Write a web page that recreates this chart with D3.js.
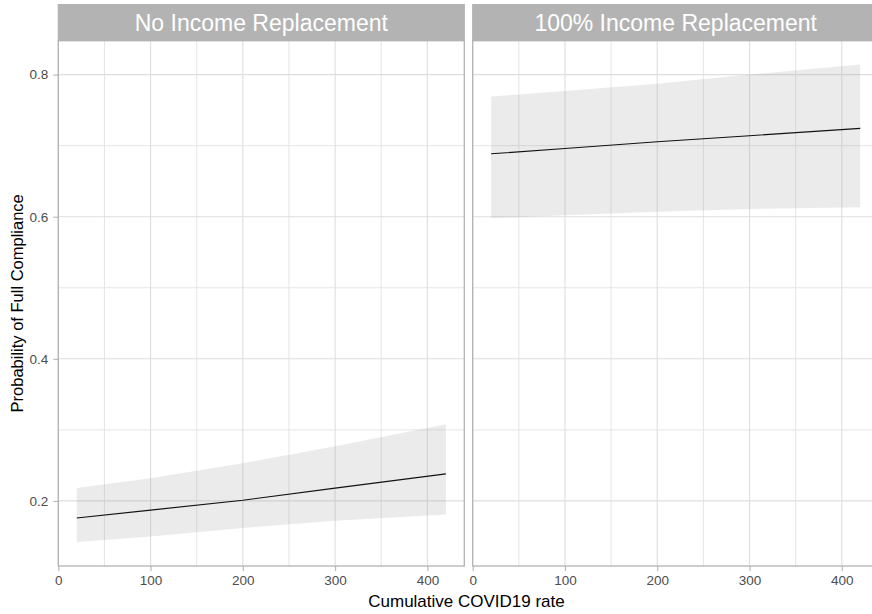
<!DOCTYPE html>
<html>
<head>
<meta charset="utf-8">
<script src="https://cdn.jsdelivr.net/npm/d3@7"></script>
<style>
  html, body { margin: 0; padding: 0; background: #ffffff; }
  svg { display: block; font-family: "Liberation Sans", Arial, sans-serif; }
</style>
</head>
<body>
<svg id="chart" width="872" height="614"></svg>
<script>
// Facet labels and predicted values along the cumulative COVID19 rate
const panels = ["No Income Replacement", "100% Income Replacement"];
const rate = [20, 100, 200, 300, 420];
const fitNone = [0.176, 0.187, 0.201, 0.218, 0.238];
const lowerNone = [0.142, 0.150, 0.162, 0.172, 0.181];
const upperNone = [0.218, 0.232, 0.253, 0.277, 0.308];
const fitFull = [0.6885, 0.696, 0.7055, 0.714, 0.7243];
const lowerFull = [0.598, 0.602, 0.607, 0.611, 0.6133];
const upperFull = [0.769, 0.777, 0.787, 0.800, 0.8141];
const xTicks = [0, 100, 200, 300, 400];
const xMinor = [50, 150, 250, 350];
const yTicks = [0.2, 0.4, 0.6, 0.8];
const yMinor = [0.3, 0.5, 0.7];

const series = [
  { name: panels[0], fit: fitNone, lo: lowerNone, hi: upperNone },
  { name: panels[1], fit: fitFull, lo: lowerFull, hi: upperFull }
];

const svg = d3.select("#chart");
const panelTop = 40.7, panelBottom = 566, stripTop = 4;
const panelLeft = [58.3, 472.7];
const panelWidth = 406;

// shared y scale with 5% padding around the bands
const allLo = d3.min(series, s => d3.min(s.lo));
const allHi = d3.max(series, s => d3.max(s.hi));
const pad = (allHi - allLo) * 0.05;
const y = d3.scaleLinear().domain([allLo - pad, allHi + pad]).range([panelBottom, panelTop]);

const xMin = d3.min(rate), xMax = d3.max(rate);
const xPad = (xMax - xMin) * 0.05;

series.forEach((s, i) => {
  const x0 = panelLeft[i];
  const x = d3.scaleLinear().domain([xMin - xPad, xMax + xPad]).range([x0, x0 + panelWidth]);
  const g = svg.append("g");

  // minor grid
  g.selectAll(".vmin").data(xMinor).join("line")
    .attr("x1", d => x(d)).attr("x2", d => x(d))
    .attr("y1", panelTop).attr("y2", panelBottom)
    .attr("stroke", "#e2e2e2").attr("stroke-width", 0.9);
  g.selectAll(".hmin").data(yMinor).join("line")
    .attr("x1", x0).attr("x2", x0 + panelWidth)
    .attr("y1", d => y(d)).attr("y2", d => y(d))
    .attr("stroke", "#e2e2e2").attr("stroke-width", 0.9);
  // major grid
  g.selectAll(".vmaj").data(xTicks).join("line")
    .attr("x1", d => x(d)).attr("x2", d => x(d))
    .attr("y1", panelTop).attr("y2", panelBottom)
    .attr("stroke", "#dedede").attr("stroke-width", 1.1);
  g.selectAll(".hmaj").data(yTicks).join("line")
    .attr("x1", x0).attr("x2", x0 + panelWidth)
    .attr("y1", d => y(d)).attr("y2", d => y(d))
    .attr("stroke", "#dedede").attr("stroke-width", 1.1);

  const pts = rate.map((r, k) => ({ r, fit: s.fit[k], lo: s.lo[k], hi: s.hi[k] }));

  // confidence band
  g.append("path").datum(pts)
    .attr("d", d3.area().x(d => x(d.r)).y0(d => y(d.lo)).y1(d => y(d.hi)))
    .attr("fill", "#999999").attr("fill-opacity", 0.2);

  // fitted line
  g.append("path").datum(pts)
    .attr("d", d3.line().x(d => x(d.r)).y(d => y(d.fit)))
    .attr("fill", "none").attr("stroke", "#111111").attr("stroke-width", 1.1);

  // panel border
  g.append("rect")
    .attr("x", x0).attr("y", panelTop)
    .attr("width", panelWidth).attr("height", panelBottom - panelTop)
    .attr("fill", "none").attr("stroke", "#b3b3b3").attr("stroke-width", 1.3);

  // strip
  g.append("rect")
    .attr("x", x0 - 0.6).attr("y", stripTop)
    .attr("width", panelWidth + 1.2).attr("height", panelTop - stripTop)
    .attr("fill", "#b3b3b3");
  g.append("text")
    .attr("x", x0 + panelWidth / 2).attr("y", (stripTop + panelTop) / 2)
    .attr("dy", "0.36em")
    .attr("text-anchor", "middle")
    .attr("fill", "#ffffff")
    .attr("font-size", "23px")
    .text(s.name);

  // x axis
  const xa = g.append("g").attr("transform", `translate(0,${panelBottom})`)
    .call(d3.axisBottom(x).tickValues(xTicks).tickSize(5).tickPadding(4).tickFormat(d3.format("d")));
  xa.select(".domain").remove();
  xa.selectAll(".tick line").attr("stroke", "#b3b3b3").attr("stroke-width", 1.1);
  xa.selectAll(".tick text").attr("fill", "#4d4d4d").attr("font-size", "13.5px")
    .attr("font-family", "Liberation Sans, Arial, sans-serif");

  // y axis on the first panel only
  if (i === 0) {
    const ya = g.append("g").attr("transform", `translate(${x0},0)`)
      .call(d3.axisLeft(y).tickValues(yTicks).tickSize(5).tickPadding(5).tickFormat(d3.format(".1f")));
    ya.select(".domain").remove();
    ya.selectAll(".tick line").attr("stroke", "#b3b3b3").attr("stroke-width", 1.1);
    ya.selectAll(".tick text").attr("fill", "#4d4d4d").attr("font-size", "13.5px")
      .attr("font-family", "Liberation Sans, Arial, sans-serif");
  }
});

// axis titles
svg.append("text")
  .attr("x", (panelLeft[0] + panelLeft[1] + panelWidth) / 2 - 2).attr("y", 607)
  .attr("text-anchor", "middle").attr("fill", "#000000")
  .attr("font-size", "17px")
  .text("Cumulative COVID19 rate");

svg.append("text")
  .attr("transform", `translate(23,${(panelTop + panelBottom) / 2}) rotate(-90)`)
  .attr("text-anchor", "middle").attr("fill", "#000000")
  .attr("font-size", "16.5px")
  .text("Probability of Full Compliance");
</script>
</body>
</html>
